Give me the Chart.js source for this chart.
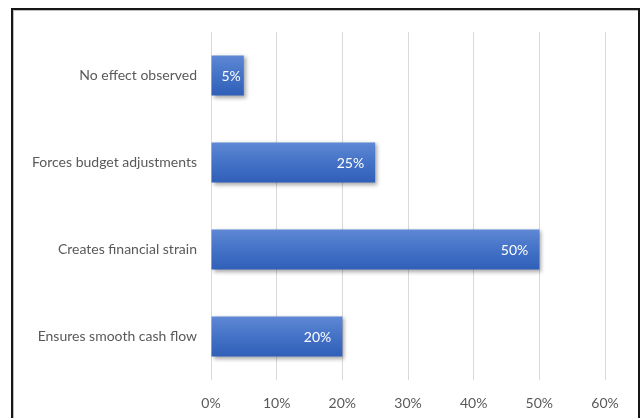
<!DOCTYPE html>
<html>
<head>
<meta charset="utf-8">
<script src="https://cdn.jsdelivr.net/npm/chart.js@4"></script>
<style>
  html, body { margin: 0; padding: 0; background: #fff; overflow: hidden; }
  #wrap { position: relative; width: 641px; height: 418px; }
  #frame {
    position: absolute; left: 11px; top: 8px; width: 625px; height: 430px;
    border: 2px solid #161616; box-shadow: inset 1px 1px 0 #bdbdbd;
  }
  canvas { position: absolute; left: 0; top: 0; }
</style>
</head>
<body>
<div id="wrap">
  <div id="frame"></div>
  <canvas id="c" width="641" height="418"></canvas>
</div>
<script>
// Survey answers and their share of respondents (%)
const categories = [
  'No effect observed',
  'Forces budget adjustments',
  'Creates financial strain',
  'Ensures smooth cash flow'
];
const shares = [5, 25, 50, 20];
const tickValues = [0, 10, 20, 30, 40, 50, 60];

const BAR_PCT = 0.92;
const CAT_PCT = 0.5;
const FONT = 'Lato, "Open Sans", sans-serif';

// Vertical gradient per bar, light on top and darker at the bottom
function barGradient(ctx) {
  const chart = ctx.chart;
  const y = chart.scales.y;
  if (!chart.chartArea || !y) return '#4472c4';
  const centre = y.getPixelForValue(ctx.dataIndex);
  const half = (y.bottom - y.top) / categories.length * BAR_PCT * CAT_PCT / 2;
  const g = chart.ctx.createLinearGradient(0, centre - half, 0, centre + half);
  g.addColorStop(0, '#5f88d6');
  g.addColorStop(0.5, '#4472c6');
  g.addColorStop(1, '#305fb9');
  return g;
}

// Soft drop shadow under the bars
const barShadow = {
  id: 'barShadow',
  beforeDatasetsDraw(chart) {
    const c = chart.ctx;
    c.save();
    c.shadowColor = 'rgba(0,0,0,0.35)';
    c.shadowBlur = 4;
    c.shadowOffsetX = 2;
    c.shadowOffsetY = 2;
  },
  afterDatasetsDraw(chart) {
    chart.ctx.restore();
  }
};

// Value labels inside the end of each bar
const valueLabels = {
  id: 'valueLabels',
  afterDatasetsDraw(chart) {
    const c = chart.ctx;
    const meta = chart.getDatasetMeta(0);
    c.save();
    c.shadowColor = 'transparent';
    c.font = '14px ' + FONT;
    c.fillStyle = '#ffffff';
    c.textAlign = 'right';
    c.textBaseline = 'middle';
    meta.data.forEach((bar, i) => {
      const text = shares[i] + '%';
      const tw = c.measureText(text).width;
      const w = bar.x - bar.base;
      const pad = w > tw + 30 ? 11 : 3;
      c.fillText(text, bar.x - pad, bar.y + 1);
    });
    c.restore();
  }
};

new Chart(document.getElementById('c'), {
  type: 'bar',
  data: {
    labels: categories,
    datasets: [{
      data: shares,
      backgroundColor: barGradient,
      borderWidth: 0,
      barPercentage: BAR_PCT,
      categoryPercentage: CAT_PCT
    }]
  },
  options: {
    indexAxis: 'y',
    responsive: false,
    animation: false,
    events: [],
    layout: { padding: { top: 32, right: 36, left: 0, bottom: 0 } },
    plugins: { legend: { display: false }, tooltip: { enabled: false } },
    scales: {
      x: {
        min: 0,
        max: 60,
        afterBuildTicks(scale) { scale.ticks = tickValues.map(v => ({ value: v })); },
        afterFit(scale) { scale.height = 38; },
        grid: { color: '#d9d9d9', lineWidth: 1, drawTicks: false },
        border: { display: false },
        ticks: {
          padding: 15,
          color: '#595959',
          font: { family: FONT, size: 14 },
          callback: v => v + '%'
        }
      },
      y: {
        afterFit(scale) { scale.width = 211; },
        grid: { display: false, drawTicks: false },
        border: { display: false },
        ticks: {
          padding: 14,
          color: '#595959',
          font: { family: FONT, size: 14 }
        }
      }
    }
  },
  plugins: [barShadow, valueLabels]
});
</script>
</body>
</html>
